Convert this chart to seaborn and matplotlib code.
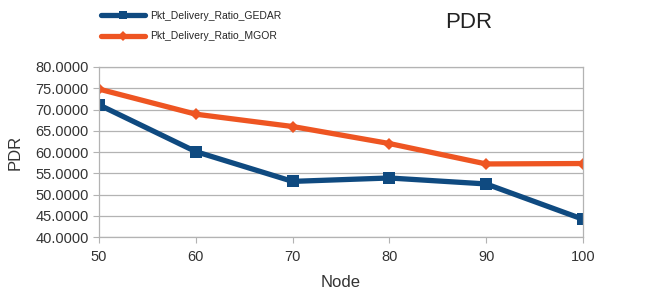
import seaborn as sns
import matplotlib.pyplot as plt
import pandas as pd

nodes = [50, 60, 70, 80, 90, 100]
pdr_gedar = [71.1, 60.1, 53.1, 53.9, 52.5, 44.2]
pdr_mgor = [74.8, 68.9, 66.0, 62.0, 57.2, 57.3]
series_names = ["Pkt_Delivery_Ratio_GEDAR", "Pkt_Delivery_Ratio_MGOR"]
y_ticks = [40, 45, 50, 55, 60, 65, 70, 75, 80]

df = pd.DataFrame({
    "Node": nodes * 2,
    "PDR": pdr_gedar + pdr_mgor,
    "series": [series_names[0]] * len(nodes) + [series_names[1]] * len(nodes),
})

sns.set_style("white")
plt.rcParams["font.family"] = ["Liberation Sans", "DejaVu Sans"]

fig = plt.figure(figsize=(6.47, 2.99), dpi=100)
ax = fig.add_axes([0.153, 0.207, 0.748, 0.569])

palette = {series_names[0]: "#0f4a80", series_names[1]: "#ee5522"}
sns.lineplot(
    data=df, x="Node", y="PDR", hue="series", style="series",
    markers={series_names[0]: "s", series_names[1]: "D"},
    dashes=False, palette=palette, linewidth=3.8, ax=ax,
    markeredgewidth=0,
)
# marker sizes per series
for line, ms in zip(ax.get_lines(), [8, 6]):
    line.set_markersize(ms)

ax.set_xlim(50, 100)
ax.set_ylim(40, 80)
ax.set_xticks(nodes)
ax.set_yticks(y_ticks)
ax.set_yticklabels([f"{v:.4f}" for v in y_ticks])
ax.yaxis.grid(True, color="#b3b3b3", linewidth=0.9)
for s in ax.spines.values():
    s.set_color("#b3b3b3")
    s.set_linewidth(0.9)
ax.tick_params(axis="both", length=4, color="#b3b3b3", labelsize=10.5,
               labelcolor="#333333", direction="out", left=True, bottom=True)
ax.tick_params(axis="x", pad=5)
ax.set_xlabel("Node", fontsize=12, color="#333333", labelpad=8)
ax.set_ylabel("PDR", fontsize=12, color="#333333", labelpad=9)

handles, labels = ax.get_legend_handles_labels()
ax.get_legend().remove()
for h, ms in zip(handles, [6, 5]):
    h.set_markersize(ms)
fig.legend(handles, labels, loc="upper left", bbox_to_anchor=(0.147, 0.985),
           frameon=False, fontsize=7.5, handlelength=4.2, handletextpad=0.5,
           labelspacing=1.0, borderaxespad=0.2)

fig.text(0.724, 0.925, "PDR", fontsize=16, ha="center", va="center",
         color="#222222")

fig.savefig("out.png", dpi=100)
